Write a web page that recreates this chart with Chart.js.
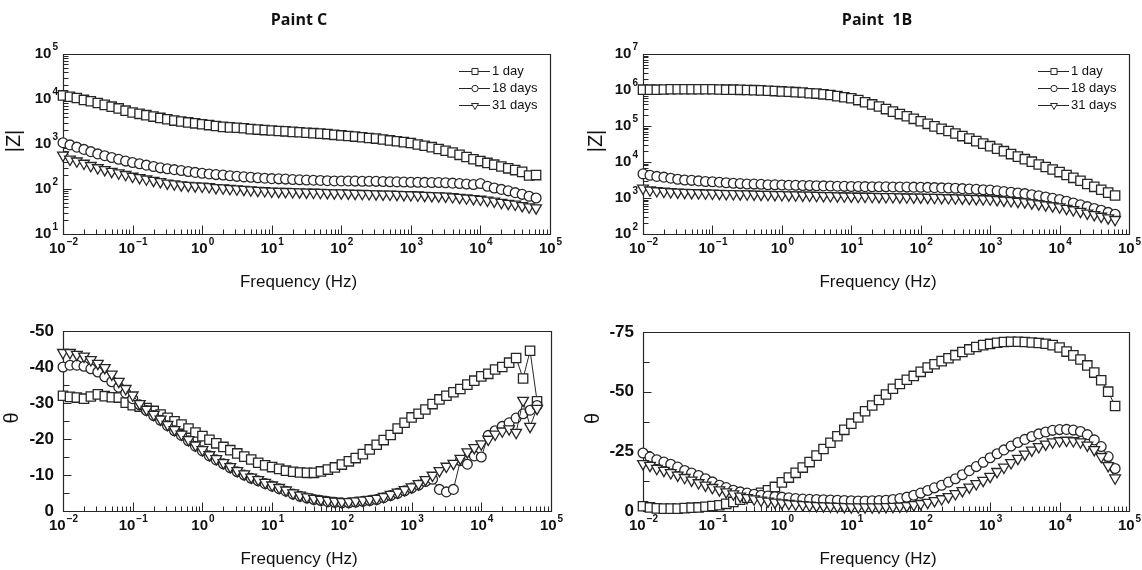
<!DOCTYPE html>
<html>
<head>
<meta charset="utf-8">
<script src="https://cdn.jsdelivr.net/npm/chart.js@4"></script>
<style>
  body { margin: 0; background: #fff; width: 1142px; height: 570px; overflow: hidden; position: relative; }
  canvas { position: absolute; }
</style>
</head>
<body>
<canvas id="zC" width="571" height="290" style="left:0;top:0"></canvas>
<canvas id="z1B" width="571" height="290" style="left:571px;top:0"></canvas>
<canvas id="tC" width="571" height="280" style="left:0;top:290px"></canvas>
<canvas id="t1B" width="571" height="280" style="left:571px;top:290px"></canvas>
<script>
// =========================
// DATA
// =========================
const FREQ = [
  0.01, 0.0126, 0.0158, 0.02, 0.0251, 0.0316, 0.0398, 0.0501, 0.0631, 0.0794,
  0.1, 0.126, 0.158, 0.2, 0.251, 0.316, 0.398, 0.501, 0.631, 0.794,
  1, 1.26, 1.58, 2, 2.51, 3.16, 3.98, 5.01, 6.31, 7.94,
  10, 12.6, 15.8, 20, 25.1, 31.6, 39.8, 50.1, 63.1, 79.4,
  100, 126, 158, 200, 251, 316, 398, 501, 631, 794,
  1000, 1260, 1580, 2000, 2510, 3160, 3980, 5010, 6310, 7940,
  10000, 12600, 15800, 20000, 25100, 31600, 39800, 50100, 63100
];
const SERIES_NAMES = ["1 day", "18 days", "31 days"];

// Paint C |Z|
const Z_C_1D = [
  12000, 11200, 10500, 9550, 8900, 8130, 7410, 6760, 6170, 5500,
  5010, 4680, 4370, 4070, 3800, 3550, 3310, 3160, 3020, 2880,
  2750, 2630, 2510, 2400, 2340, 2290, 2240, 2140, 2090, 2040,
  2000, 1950, 1910, 1860, 1820, 1780, 1740, 1700, 1660, 1600,
  1550, 1510, 1460, 1410, 1360, 1320, 1260, 1200, 1150, 1100,
  1050, 977, 912, 851, 776, 708, 646, 575, 513, 457,
  417, 380, 347, 316, 288, 263, 240, 200, 204
];
const Z_C_18D = [
  1070, 955, 851, 759, 676, 603, 550, 501, 457, 417,
  389, 363, 339, 316, 295, 282, 269, 257, 245, 234,
  224, 216, 209, 204, 197, 191, 186, 182, 178, 174,
  170, 168, 166, 162, 160, 158, 157, 155, 153, 151,
  151, 151, 150, 149, 149, 148, 147, 145, 144, 143,
  141, 141, 140, 139, 139, 138, 135, 132, 129, 126,
  132, 115, 105, 98, 91, 83, 76, 69, 63
];
const Z_C_31D = [
  562, 457, 417, 372, 331, 295, 269, 245, 226, 209,
  191, 178, 166, 155, 145, 135, 129, 123, 120, 117,
  115, 112, 107, 105, 102, 100, 98, 95, 93, 91,
  89, 88, 87.5, 86.7, 85.9, 85.1, 84.3, 83.6, 82.8, 82,
  81.3, 80.5, 79.8, 79.1, 78.3, 77.6, 76.9, 76.2, 75.5, 74.8,
  74.1, 73.1, 72.1, 71.1, 70.1, 69.2, 67, 64.9, 62.8, 60.8,
  58.9, 56.2, 53.7, 50.1, 47.9, 45.7, 42.7, 39.8, 38
];

// Paint 1B |Z|
const Z_1B_1D = [
  1020000, 1020000, 1020000, 1035000, 1047000, 1047000, 1047000, 1047000, 1047000, 1047000,
  1047000, 1035000, 1023000, 1023000, 1012000, 1000000, 989000, 977000, 955000, 933000,
  912000, 891000, 871000, 851000, 813000, 794000, 759000, 724000, 676000, 631000,
  589000, 525000, 457000, 398000, 347000, 295000, 251000, 214000, 186000, 158000,
  135000, 115000, 97700, 83200, 72400, 61700, 52500, 44700, 38000, 32400,
  27500, 23400, 20000, 16600, 14100, 12000, 10200, 8510, 7240, 6170,
  5250, 4370, 3630, 3020, 2450, 2040, 1700, 1410, 1170
];
const Z_1B_18D = [
  4680, 4270, 3980, 3800, 3550, 3310, 3160, 3090, 2990, 2880,
  2820, 2750, 2660, 2570, 2510, 2450, 2430, 2400, 2340, 2320,
  2290, 2270, 2250, 2230, 2210, 2190, 2170, 2150, 2130, 2110,
  2090, 2080, 2070, 2060, 2050, 2040, 2030, 2020, 2010, 2000,
  1995, 1970, 1940, 1910, 1890, 1860, 1820, 1780, 1740, 1700,
  1660, 1580, 1510, 1450, 1380, 1320, 1230, 1150, 1070, 977,
  912, 813, 724, 646, 575, 513, 457, 398, 355
];
const Z_1B_31D = [
  1860, 1660, 1580, 1530, 1480, 1450, 1430, 1410, 1390, 1370,
  1350, 1340, 1320, 1310, 1300, 1290, 1280, 1260, 1250, 1240,
  1230, 1220, 1210, 1200, 1190, 1170, 1160, 1150, 1140, 1130,
  1120, 1110, 1110, 1100, 1090, 1080, 1080, 1070, 1060, 1050,
  1050, 1040, 1030, 1020, 1010, 1000, 986, 973, 959, 946,
  933, 899, 867, 836, 805, 776, 728, 682, 640, 600,
  562, 513, 468, 422, 380, 343, 309, 279, 251
];

// Paint C theta
const TH_C_1D = [
  -32, -31.7, -31.5, -31.2, -31.8, -32.4, -31.9, -31.6, -31.5, -30.1,
  -29.4, -29.0, -28.6, -27.8, -26.8, -25.9, -24.9, -24.0, -22.9, -21.8,
  -20.8, -19.8, -18.8, -17.8, -16.9, -16.0, -15.1, -14.3, -13.4, -12.7,
  -12.2, -11.7, -11.2, -10.9, -10.7, -10.6, -10.6, -11.0, -11.5, -12.1,
  -12.9, -13.8, -14.7, -15.8, -17.1, -18.4, -19.7, -21.1, -22.9, -24.5,
  -26.0, -27.0, -28.2, -29.7, -31.0, -32.0, -33.0, -33.9, -35.1, -36.2,
  -37.4, -38.1, -39.3, -40.0, -41.2, -42.5, -36.8, -44.5, -30.5
];
const TH_C_18D = [
  -40, -40.5, -40.5, -40.2, -39.5, -38.6, -37.3, -35.9, -34.4, -32.8,
  -31.2, -29.5, -27.9, -26.5, -25.2, -23.7, -22.3, -21.0, -19.5, -18.0,
  -16.7, -15.3, -14.2, -13.1, -12.0, -10.9, -10.0, -9.1, -8.4, -7.6,
  -6.9, -6.2, -5.5, -4.7, -4.1, -3.6, -3.2, -2.9, -2.6, -2.4,
  -2.3, -2.3, -2.5, -2.7, -2.9, -3.2, -3.7, -4.3, -4.9, -5.6,
  -6.4, -7.2, -8.2, -8.8, -6.0, -5.3, -6.0, -14.0, -13.0, -15.3,
  -15.0, -21.0, -22.3, -23.5, -24.5, -25.8, -27.0, -28.0, -29.3
];
const TH_C_31D = [
  -44.0, -44.0, -43.5, -43.0, -42.0, -41.0, -39.8, -38.0, -36.0, -34.0,
  -32.2, -29.8, -28.2, -26.8, -25.5, -24.0, -22.6, -21.3, -19.8, -18.3,
  -17.0, -15.6, -14.5, -13.4, -12.3, -11.2, -10.3, -9.4, -8.7, -7.9,
  -7.2, -6.5, -5.8, -5.0, -4.4, -3.9, -3.5, -3.2, -2.9, -2.7,
  -2.6, -2.6, -2.8, -3.0, -3.2, -3.5, -4.0, -4.6, -5.2, -5.9,
  -6.7, -7.6, -8.7, -9.9, -11.2, -12.4, -13.2, -14.6, -16.4, -17.6,
  -18.6, -19.9, -21.3, -22.2, -22.8, -21.8, -30.7, -23.5, -28.5
];

// Paint 1B theta
const TH_1B_1D = [
  -2.0, -1.5, -1.1, -1.0, -1.0, -1.0, -1.2, -1.4, -1.5, -1.8,
  -2.1, -2.4, -3.0, -3.8, -4.7, -5.6, -6.6, -7.6, -8.7, -10.1,
  -12.0, -14.0, -16.0, -18.2, -20.5, -23.2, -26.0, -28.6, -31.3, -34.0,
  -36.6, -39.2, -41.8, -44.2, -46.5, -48.8, -51.2, -53.2, -55.0, -56.6,
  -58.3, -60.1, -61.5, -62.8, -64.0, -65.3, -66.6, -67.7, -68.7, -69.5,
  -70.0, -70.5, -70.8, -70.9, -70.9, -70.8, -70.6, -70.4, -70.1, -69.5,
  -68.5, -66.8, -65.2, -63.5, -61.0, -58.0, -54.8, -50.0, -44.0
];
const TH_1B_18D = [
  -24.3, -22.6, -21.5, -20.5, -19.6, -18.4, -17.0, -15.9, -14.9, -13.5,
  -12.2, -10.8, -9.8, -8.7, -8.0, -7.5, -7.0, -6.6, -6.3, -6.0,
  -5.8, -5.5, -5.2, -5.0, -4.9, -4.8, -4.7, -4.6, -4.5, -4.4,
  -4.3, -4.2, -4.2, -4.3, -4.4, -4.5, -4.8, -5.2, -5.8, -6.6,
  -7.5, -8.6, -9.7, -10.8, -12.1, -13.5, -15.2, -16.9, -18.6, -20.4,
  -22.3, -24.0, -25.6, -27.2, -28.7, -30.0, -31.2, -32.3, -33.1, -33.8,
  -34.1, -34.2, -33.9, -33.3, -32.0, -29.8, -27.0, -22.8, -17.8
];
const TH_1B_31D = [
  -19.8, -19.1, -17.8, -17.0, -16.0, -15.0, -14.0, -12.9, -11.8, -10.8,
  -9.8, -8.8, -8.0, -7.1, -6.2, -5.6, -5.0, -4.5, -4.1, -3.7,
  -3.4, -3.1, -2.8, -2.6, -2.4, -2.2, -2.1, -2.0, -1.9, -1.8,
  -1.7, -1.7, -1.7, -1.7, -1.7, -1.8, -1.9, -2.0, -2.2, -2.6,
  -3.1, -3.6, -4.3, -5.1, -6.0, -7.2, -8.5, -10.0, -11.4, -12.8,
  -14.5, -16.5, -18.3, -20.2, -22.0, -23.8, -25.5, -26.9, -28.0, -28.9,
  -29.4, -29.6, -29.4, -28.9, -27.6, -25.7, -22.8, -19.0, -13.8
];

// tick labels
const X_EXP = [-2, -1, 0, 1, 2, 3, 4, 5];
const Z_C_EXP = [1, 2, 3, 4, 5];
const Z_1B_EXP = [2, 3, 4, 5, 6, 7];
const TH_C_MAJOR = [0, -10, -20, -30, -40, -50];
const TH_C_MINOR = [-5, -15, -25, -35, -45];
const TH_1B_MAJOR = [0, -25, -50, -75];
const TH_1B_MINOR = [-12.5, -37.5, -62.5];

// =========================
// STYLE
// =========================
const INK = "#262626";
const SANS = '"Liberation Sans", Arial, sans-serif';
const MARKERS = [
  { pointStyle: "rect", radius: 6.6, rotation: 0 },
  { pointStyle: "circle", radius: 4.9, rotation: 0 },
  { pointStyle: "triangle", radius: 6.2, rotation: 180 }
];

const PANELS = [
  { id: "zC", yLog: true, min: 10, max: 1e5, yExp: Z_C_EXP,
    series: [Z_C_1D, Z_C_18D, Z_C_31D], title: "Paint C", titleX: 299,
    yTitle: "|Z|", yTitleX: 14, legend: true,
    pad: { left: 0, right: 21, top: 54, bottom: 0 }, yW: 63, xH: 56 },
  { id: "z1B", yLog: true, min: 100, max: 1e7, yExp: Z_1B_EXP,
    series: [Z_1B_1D, Z_1B_18D, Z_1B_31D], title: "Paint  1B", titleX: 306,
    yTitle: "|Z|", yTitleX: 25, legend: true,
    pad: { left: 0, right: 13, top: 54, bottom: 0 }, yW: 72, xH: 56 },
  { id: "tC", yLog: false, min: -50, max: 0, major: TH_C_MAJOR, minor: TH_C_MINOR,
    series: [TH_C_1D, TH_C_18D, TH_C_31D],
    yTitle: "\u03b8", yTitleX: 12, legend: false,
    pad: { left: 0, right: 20, top: 41, bottom: 0 }, yW: 63, xH: 59 },
  { id: "t1B", yLog: false, min: -75, max: 0, major: TH_1B_MAJOR, minor: TH_1B_MINOR,
    series: [TH_1B_1D, TH_1B_18D, TH_1B_31D],
    yTitle: "\u03b8", yTitleX: 22, legend: false,
    pad: { left: 0, right: 13, top: 42, bottom: 0 }, yW: 72, xH: 59 }
];

// =========================
// TEXT HELPERS
// =========================
function powLabel(ctx, e, x, y, align) {
    const base = "10";
    const sup = e < 0 ? "\u2212" + (-e) : String(e);
    ctx.font = `bold 15px ${SANS}`;
    const wb = ctx.measureText(base).width;
    ctx.font = `bold 10px ${SANS}`;
    const ws = ctx.measureText(sup).width;
    const x0 = align === "right" ? x - wb - ws - 1 : x - (wb + ws) / 2;
    ctx.textAlign = "left";
    ctx.textBaseline = "middle";
    ctx.font = `bold 15px ${SANS}`;
    ctx.fillText(base, x0, y);
    ctx.font = `bold 10px ${SANS}`;
    ctx.fillText(sup, x0 + wb + 1, y - 7);
}

// =========================
// AXES, FRAME, LEGEND
// =========================
function makeDecor(p) {
    return {
        id: "decor",
        beforeDatasetsDraw(chart) {
            const { ctx, chartArea: a, scales: { x, y } } = chart;
            const L = Math.round(a.left) + 0.5, B = Math.round(a.bottom) + 0.5;
            ctx.save();
            ctx.strokeStyle = INK;
            ctx.lineWidth = 1.2;
            ctx.beginPath();
            ctx.rect(L, Math.round(a.top) + 0.5, Math.round(a.right - a.left), Math.round(a.bottom - a.top));
            ctx.stroke();

            // x ticks (inside, bottom)
            ctx.lineWidth = 1;
            ctx.beginPath();
            X_EXP.forEach((e, i) => {
                const px = Math.round(x.getPixelForValue(10 ** e)) + 0.5;
                ctx.moveTo(px, B); ctx.lineTo(px, B - 9);
                if (i < X_EXP.length - 1) {
                    for (let m = 2; m <= 9; m++) {
                        const q = Math.round(x.getPixelForValue(m * 10 ** e)) + 0.5;
                        ctx.moveTo(q, B); ctx.lineTo(q, B - 5);
                    }
                }
            });

            // y ticks (inside, left)
            if (p.yLog) {
                p.yExp.forEach((e, i) => {
                    const py = Math.round(y.getPixelForValue(10 ** e)) + 0.5;
                    ctx.moveTo(L, py); ctx.lineTo(L + 8, py);
                    if (i < p.yExp.length - 1) {
                        for (let m = 2; m <= 9; m++) {
                            const q = Math.round(y.getPixelForValue(m * 10 ** e)) + 0.5;
                            ctx.moveTo(L, q); ctx.lineTo(L + 5, q);
                        }
                    }
                });
            } else {
                p.major.forEach(v => {
                    const py = Math.round(y.getPixelForValue(v)) + 0.5;
                    ctx.moveTo(L, py); ctx.lineTo(L + 8, py);
                });
                p.minor.forEach(v => {
                    const py = Math.round(y.getPixelForValue(v)) + 0.5;
                    ctx.moveTo(L, py); ctx.lineTo(L + 6, py);
                });
            }
            ctx.stroke();

            // tick labels
            ctx.fillStyle = "#111";
            X_EXP.forEach(e => powLabel(ctx, e, x.getPixelForValue(10 ** e), a.bottom + 15, "center"));
            if (p.yLog) {
                p.yExp.forEach(e => powLabel(ctx, e, a.left - 5, y.getPixelForValue(10 ** e), "right"));
            } else {
                ctx.font = `bold 17px ${SANS}`;
                ctx.textAlign = "right";
                ctx.textBaseline = "middle";
                p.major.forEach(v => ctx.fillText(String(v), a.left - 9, y.getPixelForValue(v)));
            }

            // axis titles
            ctx.fillStyle = "#111";
            ctx.font = `17px ${SANS}`;
            ctx.textAlign = "center";
            ctx.textBaseline = "middle";
            ctx.fillText("Frequency (Hz)", (a.left + a.right) / 2 - 8, a.bottom + 48);

            ctx.save();
            ctx.translate(p.yTitleX, (a.top + a.bottom) / 2 - 3);
            ctx.rotate(-Math.PI / 2);
            ctx.font = `20px ${SANS}`;
            ctx.fillText(p.yTitle, 0, 0);
            ctx.restore();

            if (p.title) {
                ctx.font = `bold 16px "Open Sans", ${SANS}`;
                ctx.fillText(p.title, p.titleX, 20);
            }
            ctx.restore();
        },
        afterDraw(chart) {
            if (!p.legend) return;
            const { ctx, chartArea: a } = chart;
            ctx.save();
            SERIES_NAMES.forEach((name, i) => {
                const ly = Math.round(a.top + 17 + i * 17) + 0.5;
                ctx.strokeStyle = INK;
                ctx.lineWidth = 1;
                ctx.beginPath();
                ctx.moveTo(a.right - 91, ly);
                ctx.lineTo(a.right - 60, ly);
                ctx.stroke();
                ctx.fillStyle = "#fff";
                const mk = MARKERS[i];
                Chart.helpers.drawPoint(ctx, {
                    pointStyle: mk.pointStyle, radius: mk.radius * 0.65,
                    rotation: mk.rotation, borderWidth: 1
                }, a.right - 75, ly);
                ctx.fillStyle = "#111";
                ctx.font = `13px ${SANS}`;
                ctx.textAlign = "left";
                ctx.textBaseline = "middle";
                ctx.fillText(name, a.right - 58, ly);
            });
            ctx.restore();
        }
    };
}

// =========================
// CHARTS
// =========================
PANELS.forEach(p => {
    new Chart(document.getElementById(p.id), {
        type: "line",
        data: {
            datasets: p.series.map((vals, i) => ({
                label: SERIES_NAMES[i],
                data: FREQ.map((f, k) => ({ x: f, y: vals[k] })),
                order: 2 - i,   // triangles end up on top
                borderColor: INK,
                borderWidth: 1,
                backgroundColor: "#fff",
                pointStyle: MARKERS[i].pointStyle,
                pointRadius: MARKERS[i].radius,
                pointRotation: MARKERS[i].rotation,
                pointBackgroundColor: "#fff",
                pointBorderColor: INK,
                pointBorderWidth: 1.3,
                tension: 0,
                clip: false
            }))
        },
        options: {
            responsive: false,
            animation: false,
            events: [],
            layout: { padding: p.pad },
            plugins: { legend: { display: false }, tooltip: { enabled: false } },
            scales: {
                x: {
                    type: "logarithmic", min: 0.01, max: 1e5,
                    ticks: { display: false }, grid: { display: false }, border: { display: false },
                    afterFit: s => { s.height = p.xH; }
                },
                y: {
                    type: p.yLog ? "logarithmic" : "linear",
                    min: p.min, max: p.max, reverse: !p.yLog,
                    ticks: { display: false }, grid: { display: false }, border: { display: false },
                    afterFit: s => { s.width = p.yW; }
                }
            }
        },
        plugins: [makeDecor(p)]
    });
});
</script>
</body>
</html>
